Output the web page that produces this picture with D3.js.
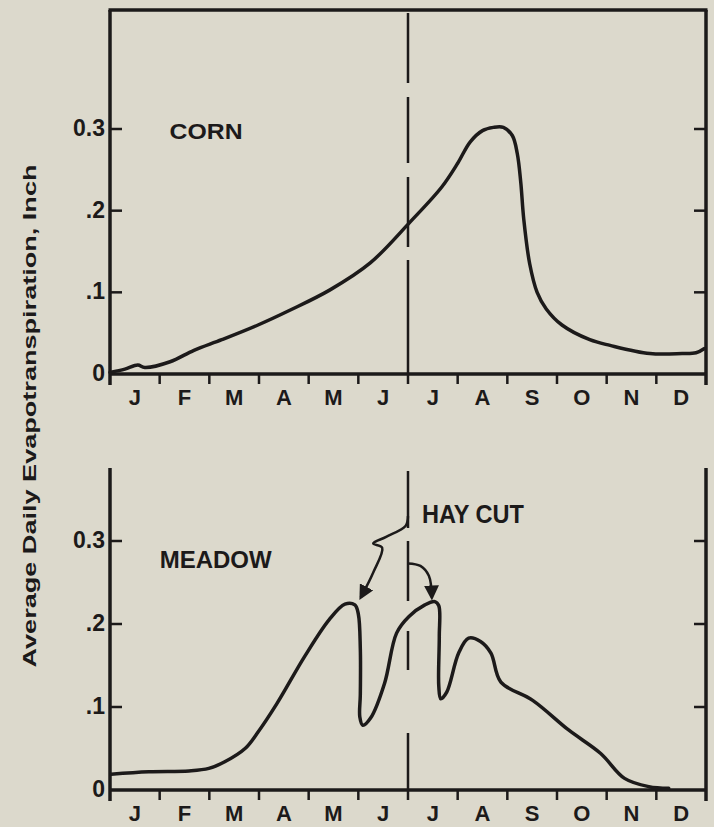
<!DOCTYPE html>
<html>
<head>
<meta charset="utf-8">
<script src="https://cdn.jsdelivr.net/npm/d3@7"></script>
<style>
  body { margin: 0; background: #dcd9cc; }
  svg { display: block; }
  text { font-family: "Liberation Sans", Arial, sans-serif; fill: #1c1a1a; }
</style>
</head>
<body>
<div id="chart"></div>
<script>
// month labels along x, value ticks on y
var months = ["J", "F", "M", "A", "M", "J", "J", "A", "S", "O", "N", "D"];
var yTicks = [0, 0.1, 0.2, 0.3];
var yTickLabels = ["0", ".1", ".2", "0.3"];

// corn: month position (0-12) and average daily ET, inch
var cornMonth = [0, 0.3, 0.56, 0.7, 1.21, 1.69, 2.25, 2.98, 3.62, 4.43, 5.24, 6.04, 6.68, 7.0, 7.25, 7.5, 7.72, 7.92, 8.1, 8.2, 8.27, 8.33, 8.45, 8.6, 8.78, 9.1, 9.66, 10.07, 10.87, 11.52, 11.8, 11.96];
var cornET    = [0.002, 0.006, 0.011, 0.008, 0.015, 0.029, 0.042, 0.06, 0.078, 0.103, 0.136, 0.186, 0.229, 0.258, 0.284, 0.298, 0.302, 0.302, 0.292, 0.27, 0.235, 0.19, 0.135, 0.1, 0.08, 0.06, 0.042, 0.035, 0.025, 0.025, 0.026, 0.031];

// meadow
var meadowMonth = [0.02, 0.78, 1.59, 1.99, 2.31, 2.72, 2.96, 3.36, 3.92, 4.41, 4.73, 4.93, 5.0, 5.04, 5.04, 5.03, 5.09, 5.25, 5.53, 5.77, 6.02, 6.34, 6.54, 6.62, 6.63, 6.62, 6.66, 6.78, 7.02, 7.22, 7.46, 7.67, 7.87, 8.51, 9.24, 9.88, 10.36, 10.85, 11.25];
var meadowET    = [0.019, 0.022, 0.023, 0.026, 0.034, 0.05, 0.068, 0.104, 0.161, 0.205, 0.224, 0.223, 0.212, 0.17, 0.115, 0.088, 0.078, 0.087, 0.129, 0.189, 0.209, 0.223, 0.227, 0.222, 0.185, 0.125, 0.11, 0.118, 0.165, 0.183, 0.179, 0.165, 0.13, 0.108, 0.072, 0.044, 0.014, 0.004, 0.002];

var width = 714, height = 827;
var ink = "#1c1a1a";

var svg = d3.select("#chart").append("svg")
  .attr("width", width)
  .attr("height", height);

// both panels share the month scale
var x = d3.scaleLinear().domain([0, 12]).range([110, 706]);

var panels = [
  {name: "CORN", month: cornMonth, et: cornET,
   y: d3.scaleLinear().domain([0, 0.3]).range([374, 129]),
   top: 10, frame: true, dash: "70,14,66,14,70,13,120",
   label: {m: 1.2, v: 0.2876, len: 73, size: 22}},
  {name: "MEADOW", month: meadowMonth, et: meadowET,
   y: d3.scaleLinear().domain([0, 0.3]).range([790, 541]),
   top: 468, frame: false, dash: "57,13,60,30,39,63,80",
   label: {m: 1.0, v: 0.268, len: 112, size: 23}}
];

var line = d3.line().curve(d3.curveCatmullRom.alpha(0.5));

panels.forEach(function(p) {
  var g = svg.append("g");
  var y = p.y;
  var y0 = y(0);

  // frame
  g.append("line").attr("x1", x(0)).attr("x2", x(0)).attr("y1", p.top).attr("y2", y0 + 11)
    .attr("stroke", ink).attr("stroke-width", 3.5);
  g.append("line").attr("x1", x(12)).attr("x2", x(12)).attr("y1", p.top).attr("y2", y0 + 11)
    .attr("stroke", ink).attr("stroke-width", 3.5);
  g.append("line").attr("x1", x(0)).attr("x2", x(12)).attr("y1", y0).attr("y2", y0)
    .attr("stroke", ink).attr("stroke-width", 3.5);
  if (p.frame) {
    g.append("line").attr("x1", x(0) - 1.5).attr("x2", x(12) + 1.5).attr("y1", p.top).attr("y2", p.top)
      .attr("stroke", ink).attr("stroke-width", 3.5);
  }

  // month ticks and labels
  g.selectAll(".mtick").data(d3.range(1, 12)).enter().append("line")
    .attr("x1", function(d) { return x(d); }).attr("x2", function(d) { return x(d); })
    .attr("y1", y0).attr("y2", y0 + 10)
    .attr("stroke", ink).attr("stroke-width", 2.5);
  g.selectAll(".mlab").data(months).enter().append("text")
    .attr("x", function(d, i) { return x(i + 0.5); })
    .attr("y", y0 + 31)
    .attr("text-anchor", "middle")
    .style("font-size", "22px").style("font-weight", "bold")
    .text(function(d) { return d; });

  // value ticks, inward on both sides
  yTicks.slice(1).forEach(function(t) {
    g.append("line").attr("x1", x(0)).attr("x2", x(0) + 12).attr("y1", y(t)).attr("y2", y(t))
      .attr("stroke", ink).attr("stroke-width", 2.5);
    g.append("line").attr("x1", x(12)).attr("x2", x(12) - 12).attr("y1", y(t)).attr("y2", y(t))
      .attr("stroke", ink).attr("stroke-width", 2.5);
  });
  g.selectAll(".ylab").data(yTicks).enter().append("text")
    .attr("x", x(0) - 5)
    .attr("y", function(d) { return y(d) + 7; })
    .attr("text-anchor", "end")
    .style("font-size", "23px").style("font-weight", "bold")
    .text(function(d, i) { return yTickLabels[i]; });

  // July 1 divider
  g.append("line").attr("x1", x(6)).attr("x2", x(6)).attr("y1", p.top + 3).attr("y2", y0)
    .attr("stroke", ink).attr("stroke-width", 2.5)
    .attr("stroke-dasharray", p.dash);

  // curve
  g.append("path")
    .attr("d", line(p.month.map(function(m, i) { return [x(m), y(p.et[i])]; })))
    .attr("fill", "none").attr("stroke", ink).attr("stroke-width", 3.5)
    .attr("stroke-linejoin", "round").attr("stroke-linecap", "round");

  g.append("text")
    .attr("x", x(p.label.m)).attr("y", y(p.label.v))
    .attr("textLength", p.label.len).attr("lengthAdjust", "spacingAndGlyphs")
    .style("font-size", p.label.size + "px").style("font-weight", "bold")
    .text(p.name);
});

// hay cut annotation (bottom panel)
var yb = panels[1].y;
svg.append("defs").append("marker")
  .attr("id", "head").attr("viewBox", "0 0 10 10").attr("refX", 8).attr("refY", 5)
  .attr("markerWidth", 6).attr("markerHeight", 6).attr("orient", "auto")
  .append("path").attr("d", "M0,0 L10,5 L0,10 Z").attr("fill", ink);

var arrowLine = d3.line().curve(d3.curveCatmullRom.alpha(0.5));
var arrow1 = [[6.0, 0.33], [5.95, 0.318], [5.56, 0.305], [5.3, 0.297], [5.48, 0.292], [5.3, 0.262], [5.05, 0.232]];
var arrow2 = [[6.0, 0.273], [6.25, 0.27], [6.42, 0.258], [6.48, 0.232]];
[arrow1, arrow2].forEach(function(a) {
  svg.append("path")
    .attr("d", arrowLine(a.map(function(d) { return [x(d[0]), yb(d[1])]; })))
    .attr("fill", "none").attr("stroke", ink).attr("stroke-width", 2.5)
    .attr("marker-end", "url(#head)");
});
svg.append("text")
  .attr("x", x(6.28)).attr("y", yb(0.322))
  .attr("textLength", 102).attr("lengthAdjust", "spacingAndGlyphs")
  .style("font-size", "25px").style("font-weight", "bold")
  .text("HAY CUT");

// y axis title
svg.append("text")
  .attr("transform", "translate(36,416) rotate(-90)")
  .attr("text-anchor", "middle")
  .attr("textLength", 503).attr("lengthAdjust", "spacingAndGlyphs")
  .style("font-size", "18px").style("font-weight", "bold")
  .text("Average Daily Evapotranspiration, Inch");
</script>
</body>
</html>
